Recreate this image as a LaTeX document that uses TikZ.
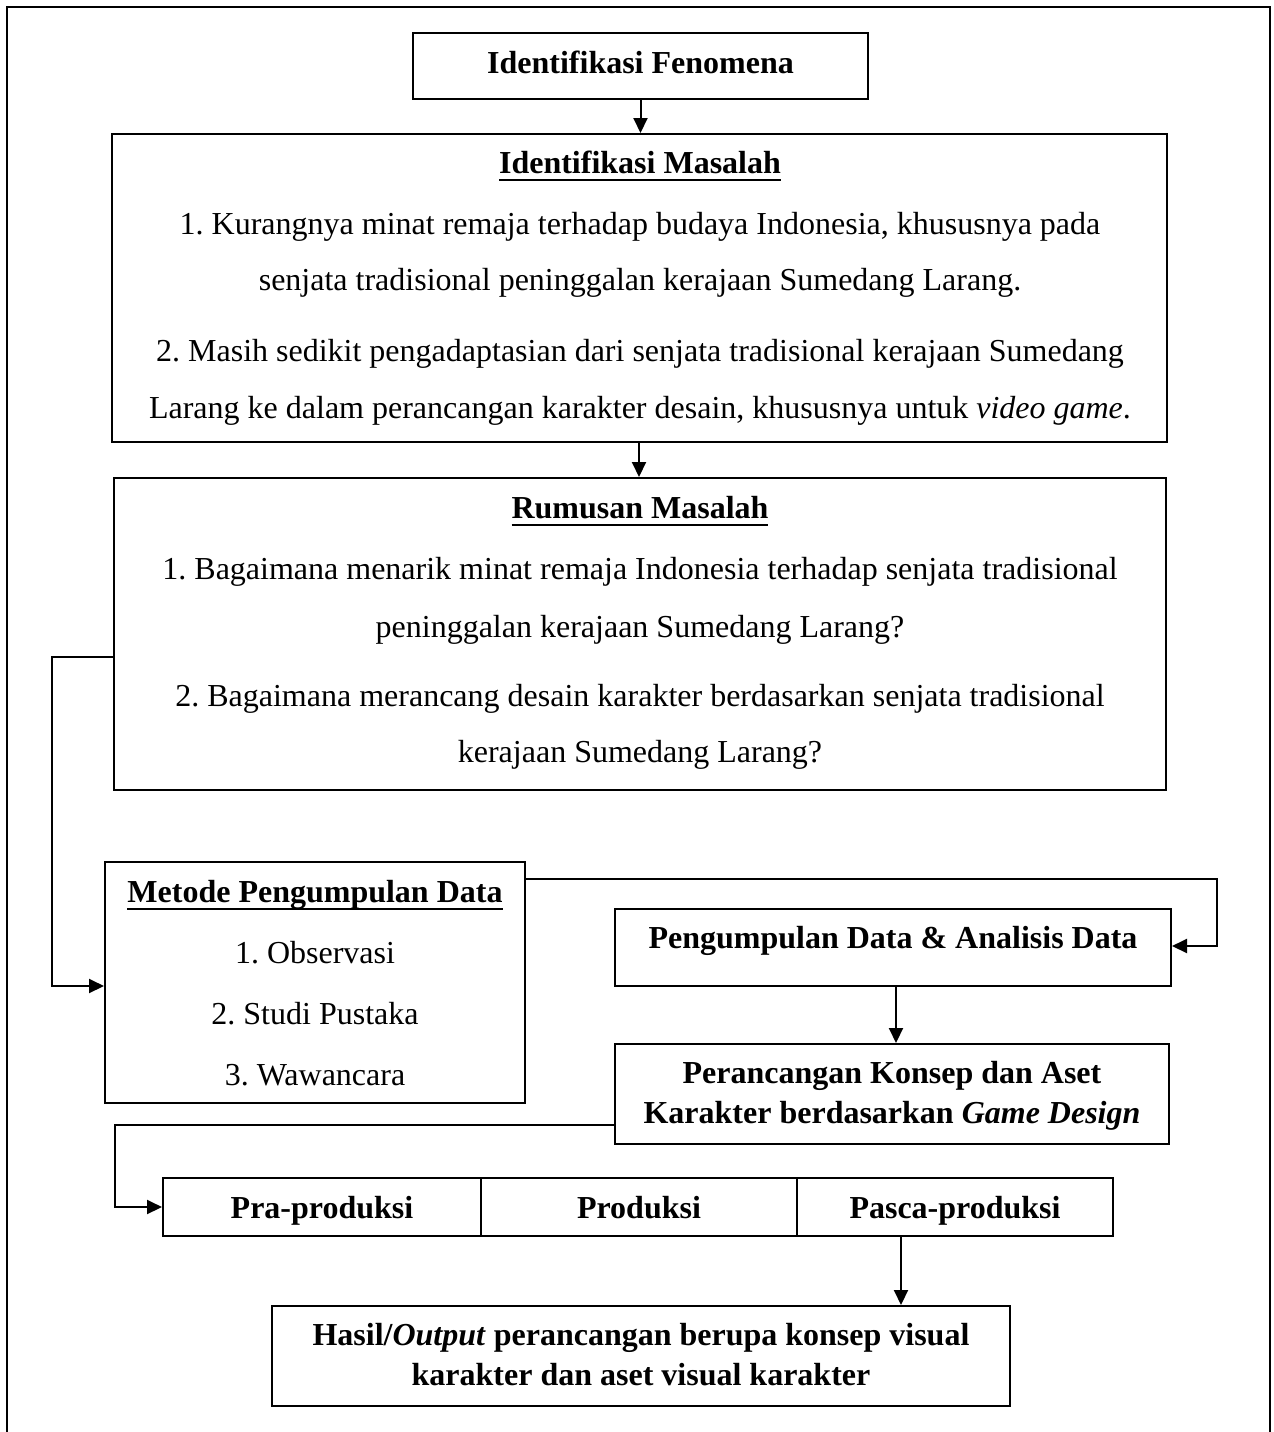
\documentclass[tikz,border=0pt]{standalone}
\usepackage{fontspec}
\setmainfont{Liberation Serif}
\usetikzlibrary{arrows.meta}
\newcommand{\ulbar}[1]{\setbox0=\hbox{#1}\rlap{\rule[-8pt]{\wd0}{2.5pt}}\box0}
\frenchspacing
\begin{document}
\begin{tikzpicture}[x=1pt,y=-1pt,
  boxnode/.style={draw, line width=2pt, inner sep=0pt, rectangle},
  txt/.style={anchor=base, inner sep=0pt, font=\fontsize{32}{38}\selectfont},
  btxt/.style={txt, font=\fontsize{32}{38}\selectfont\bfseries},
  arr/.style={line width=2pt, -{Triangle[length=15pt,width=14pt]}},
  frame/.style={line width=2pt}]
\useasboundingbox (0,0) rectangle (1274,1432);
\fill[white] (0,0) rectangle (1274,1432);
% outer frame
\coordinate (fa) at (7,1445);
\coordinate (fb) at (7,7);
\coordinate (fc) at (1270,7);
\coordinate (fd) at (1270,1445);
\draw[frame] (fa) -- (fb) -- (fc) -- (fd);

% boxes
\node[boxnode, minimum width=455pt, minimum height=66pt] (fen) at (640.5,66) {};
\node[boxnode, minimum width=1055pt, minimum height=308pt] (mas) at (639.5,288) {};
\node[boxnode, minimum width=1052pt, minimum height=312pt] (rum) at (640,634) {};
\node[boxnode, minimum width=420pt, minimum height=241pt] (met) at (315,982.5) {};
\node[boxnode, minimum width=556pt, minimum height=77pt] (peng) at (893,947.5) {};
\node[boxnode, minimum width=554pt, minimum height=100pt] (per) at (892,1094) {};
\node[boxnode, minimum width=318pt, minimum height=58pt] (pra) at (322,1207) {};
\node[boxnode, minimum width=316pt, minimum height=58pt] (pro) at (639,1207) {};
\node[boxnode, minimum width=316pt, minimum height=58pt] (pas) at (955,1207) {};
\node[boxnode, minimum width=738pt, minimum height=100pt] (has) at (641,1356) {};

% texts
\node[btxt] (tfen) at (640.5,73) {Identifikasi Fenomena};

\node[btxt] (tmas) at (640,173) {\ulbar{Identifikasi Masalah}};
\node[txt] (tmas1) at (640,234) {1. Kurangnya minat remaja terhadap budaya Indonesia, khususnya pada};
\node[txt] (tmas2) at (640,290) {senjata tradisional peninggalan kerajaan Sumedang Larang.};
\node[txt] (tmas3) at (640,361) {2. Masih sedikit pengadaptasian dari senjata tradisional kerajaan Sumedang};
\node[txt] (tmas4) at (640,418) {Larang ke dalam perancangan karakter desain, khususnya untuk \textit{video game}.};

\node[btxt] (trum) at (640,518) {\ulbar{Rumusan Masalah}};
\node[txt] (trum1) at (640,579) {1. Bagaimana menarik minat remaja Indonesia terhadap senjata tradisional};
\node[txt] (trum2) at (640,637) {peninggalan kerajaan Sumedang Larang?};
\node[txt] (trum3) at (640,706) {2. Bagaimana merancang desain karakter berdasarkan senjata tradisional};
\node[txt] (trum4) at (640,762) {kerajaan Sumedang Larang?};

\node[btxt] (tmet) at (315,902) {\ulbar{Metode Pengumpulan Data}};
\node[txt] (tmet1) at (315,963) {1. Observasi};
\node[txt] (tmet2) at (315,1024) {2. Studi Pustaka};
\node[txt] (tmet3) at (315,1085) {3. Wawancara};

\node[btxt] (tpeng) at (893,948) {Pengumpulan Data \& Analisis Data};
\node[btxt] (tper1) at (892,1083) {Perancangan Konsep dan Aset};
\node[btxt] (tper2) at (892,1123) {Karakter berdasarkan \textit{Game Design}};

\node[btxt] (tpra) at (322,1218) {Pra-produksi};
\node[btxt] (tpro) at (639,1218) {Produksi};
\node[btxt] (tpas) at (955,1218) {Pasca-produksi};

\node[btxt] (thas1) at (641,1345) {Hasil/\textit{Output} perancangan berupa konsep visual};
\node[btxt] (thas2) at (641,1385) {karakter dan aset visual karakter};

% connectors
\draw[arr] (fen.south) -- (fen.south |- mas.north);
\draw[arr] (mas.south -| 639,0) -- (rum.north -| 639,0);
\draw[arr] ([yshift=-23pt]rum.west) -| ([xshift=-52pt,yshift=-3.5pt]met.west) -- ([yshift=-3.5pt]met.west);
\draw[arr] ([yshift=-18pt]met.north east) -| ([xshift=45pt,yshift=1.5pt]peng.east) -- ([yshift=1.5pt]peng.east);
\draw[arr] ([xshift=3pt]peng.south) -- ([xshift=3pt]peng.south |- per.north);
\draw[arr] ([yshift=20pt]per.south west) -| ([xshift=-47pt]pra.west) -- (pra.west);
\draw[arr] ([xshift=-54pt]pas.south) -- ([xshift=-54pt]pas.south |- has.north);
\end{tikzpicture}
\end{document}
